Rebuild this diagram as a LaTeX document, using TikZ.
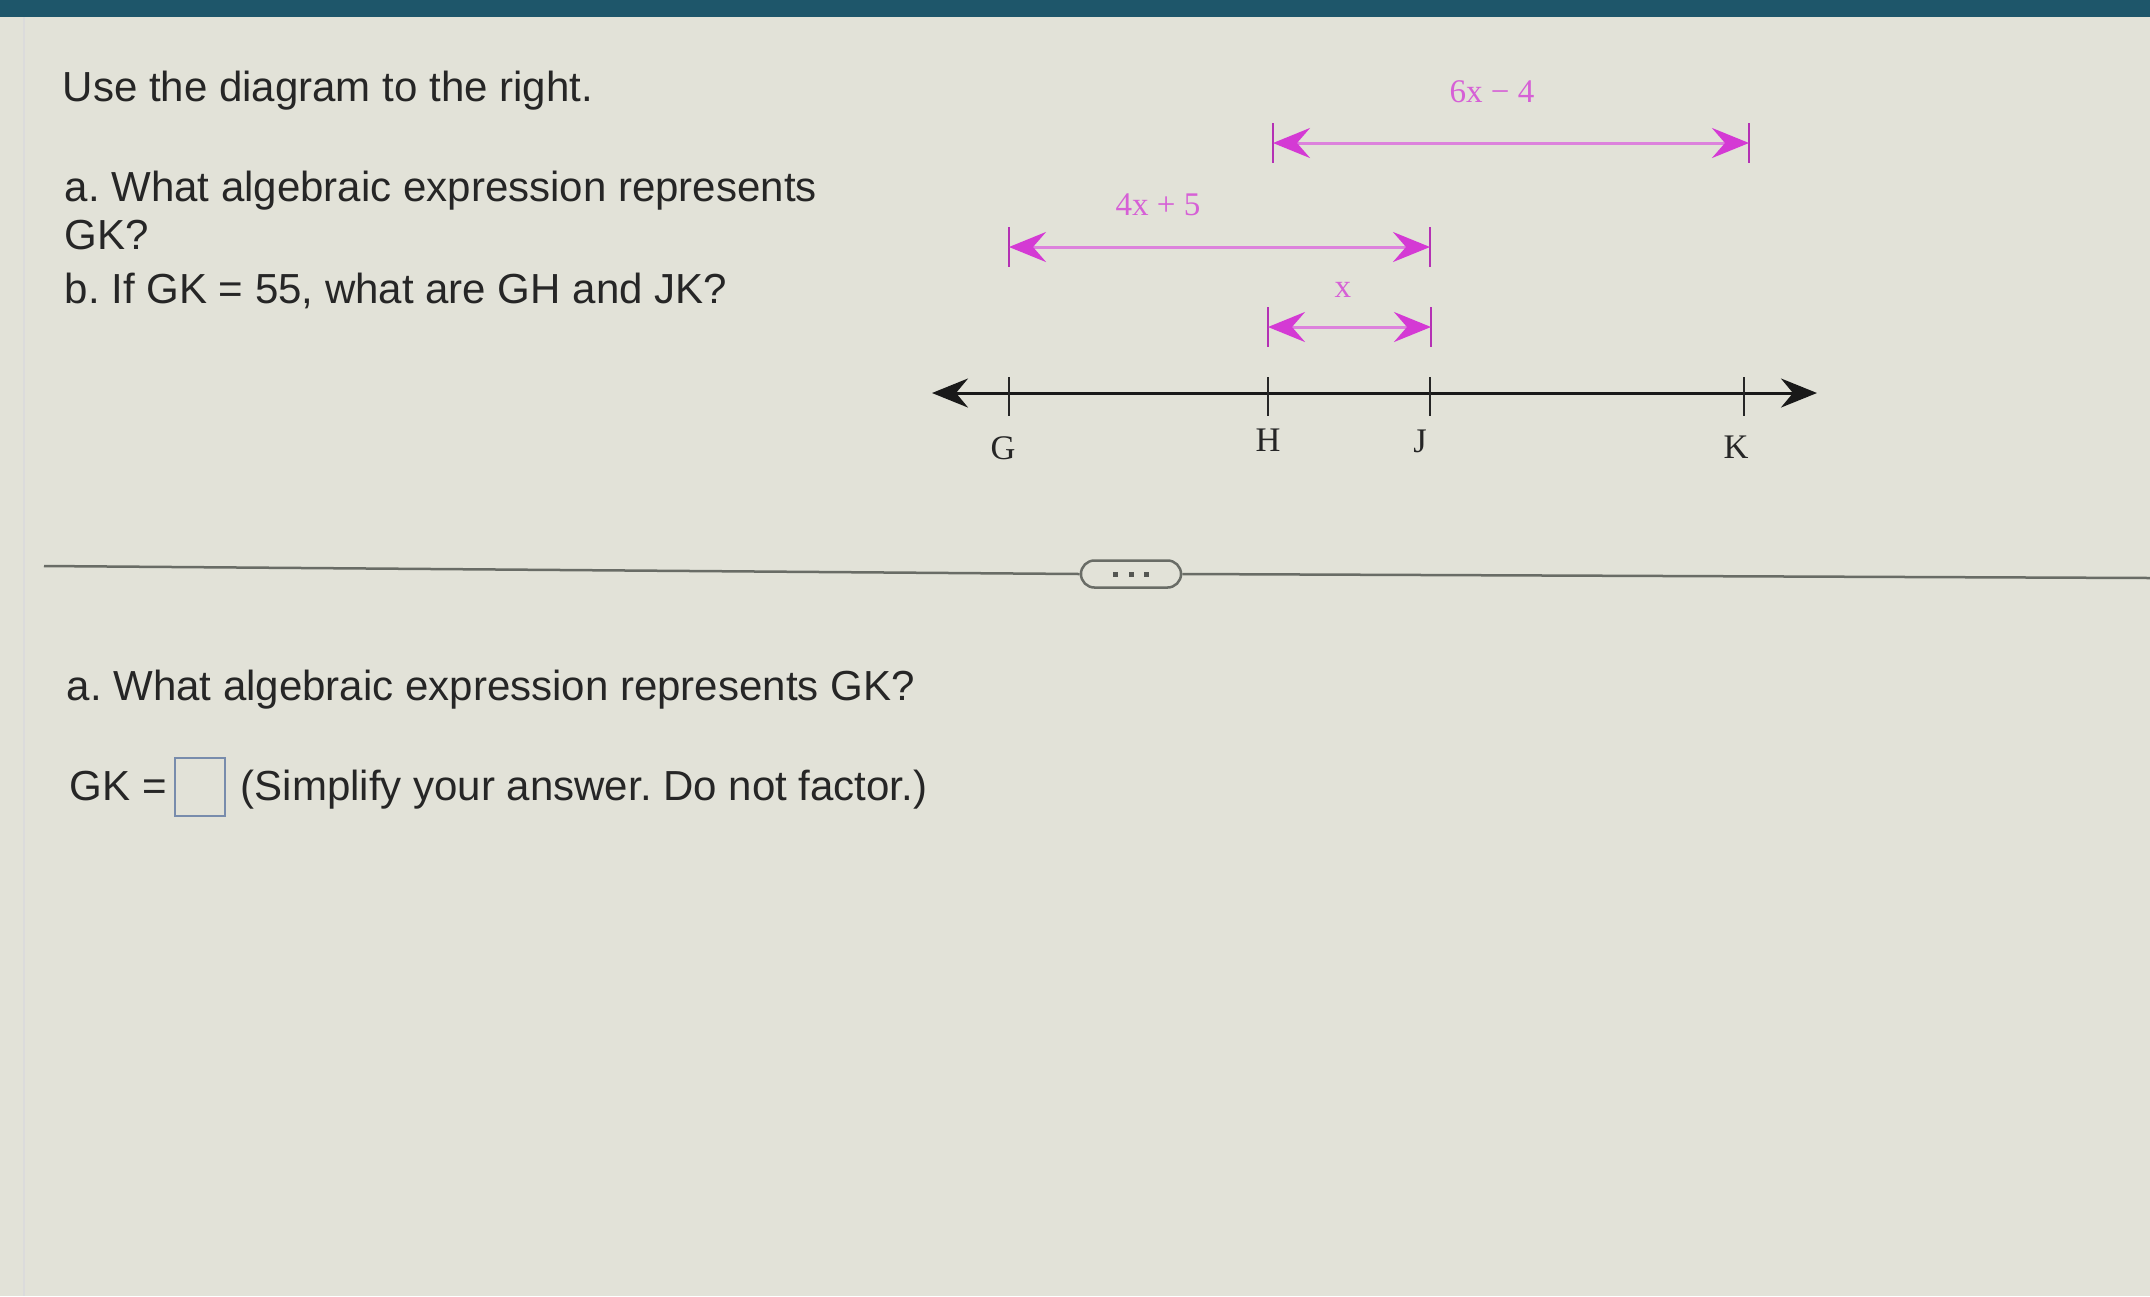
\documentclass[tikz,border=0pt]{standalone}
\usepackage{fontspec}
\setmainfont{Liberation Sans}
\newfontfamily\serifl{Liberation Serif}
\usetikzlibrary{arrows.meta}
\frenchspacing
\definecolor{bg}{RGB}{226,226,216}
\definecolor{topbar}{RGB}{30,86,106}
\definecolor{ink}{RGB}{38,38,38}
\definecolor{mag}{RGB}{212,58,212}
\definecolor{magline}{RGB}{220,130,220}
\definecolor{maglab}{RGB}{214,96,214}
\definecolor{rulec}{RGB}{105,108,102}
\definecolor{boxc}{RGB}{120,140,172}
\begin{document}
\begin{tikzpicture}[x=0.01cm,y=-0.01cm,
  qtext/.style={inner sep=0pt, anchor=base west, text=ink, font=\fontsize{11.95}{14}\selectfont},
  ptlabel/.style={inner sep=0pt, anchor=base, text=black!85, font=\serifl\fontsize{9.8}{11}\selectfont},
  measlabel/.style={inner sep=0pt, text=maglab, font=\serifl\fontsize{9.4}{11}\selectfont},
  measarrow/.style={magline, line width=0.03cm,
    {Stealth[length=0.37cm,width=0.30cm,inset=0.13cm,color=mag]}-{Stealth[length=0.37cm,width=0.30cm,inset=0.13cm,color=mag]}},
  measbar/.style={mag!85!black, line width=0.02cm},
  numline/.style={black!90, line width=0.03cm,
    {Stealth[length=0.36cm,width=0.29cm,inset=0.12cm]}-{Stealth[length=0.36cm,width=0.29cm,inset=0.12cm]}},
  tickmark/.style={black!85, line width=0.02cm},
  sepline/.style={rulec, line width=0.025cm}]
\fill[bg] (0,0) rectangle (2150,1296);
\useasboundingbox (0,0) rectangle (2150,1296);
\fill[topbar] (0,0) rectangle (2150,17);
\draw[black!14, line width=0.02cm] (24,17) -- (24,1296);

% question text
\node[qtext] (t1) at (62,101) {Use the diagram to the right.};
\node[qtext] (t2) at (64,201) {a. What algebraic expression represents};
\node[qtext] (t3) at (64,249) {GK?};
\node[qtext] (t4) at (64,303) {b. If GK = 55, what are GH and JK?};

% separator
\node[draw=rulec, line width=0.025cm, rounded corners=0.135cm, minimum width=1.0cm,
      minimum height=0.27cm, inner sep=0pt, fill=bg] (pill) at (1131,574) {};
\coordinate (sepL) at (44,566);
\coordinate (sepR) at (2150,578);
\draw[sepline] (sepL) -- (pill.west);
\draw[sepline] (pill.east) -- (sepR);
\fill[rulec!80!black] (1113,572) rectangle (1118,577);
\fill[rulec!80!black] (1129,572) rectangle (1134,577);
\fill[rulec!80!black] (1144,572) rectangle (1149,577);

% answer part
\node[qtext] (t5) at (66,700) {a. What algebraic expression represents GK?};
\node[qtext] (t6) at (69,800) {GK =};
\node[draw=boxc, line width=0.02cm, minimum width=0.5cm, minimum height=0.58cm,
      inner sep=0pt] (ans) at (200,787) {};
\node[qtext] (t7) at (240,800) {(Simplify your answer. Do not factor.)};

% number line
\coordinate (NL) at (932,393);
\coordinate (NR) at (1817,393);
\draw[numline] (NL) -- (NR);
\coordinate (G) at (1009,393);
\coordinate (H) at (1268,393);
\coordinate (J) at (1430,393);
\coordinate (K) at (1744,393);
\foreach \p in {G,H,J,K}{
  \draw[tickmark] (\p) ++(0,-16) -- ++(0,39);
}
\node[ptlabel] (lG) at (1003,459) {G};
\node[ptlabel] (lH) at (1268,451) {H};
\node[ptlabel] (lJ) at (1420,452) {J};
\node[ptlabel] (lK) at (1736,458) {K};

% measurement arrows
\coordinate (a1) at (1273,143);
\coordinate (a2) at (1749,143);
\coordinate (b1) at (1009,247);
\coordinate (b2) at (1430,247);
\coordinate (c1) at (1268,327);
\coordinate (c2) at (1431,327);
\foreach \p in {a1,a2,b1,b2,c1,c2}{
  \draw[measbar] (\p) ++(0,-20) -- ++(0,40);
}
\draw[measarrow] (a1) -- (a2);
\draw[measarrow] (b1) -- (b2);
\draw[measarrow] (c1) -- (c2);
\node[measlabel] (m1) at (1492,92) {6x − 4};
\node[measlabel] (m2) at (1158,205) {4x + 5};
\node[measlabel] (m3) at (1343,290) {x};
\end{tikzpicture}
\end{document}
